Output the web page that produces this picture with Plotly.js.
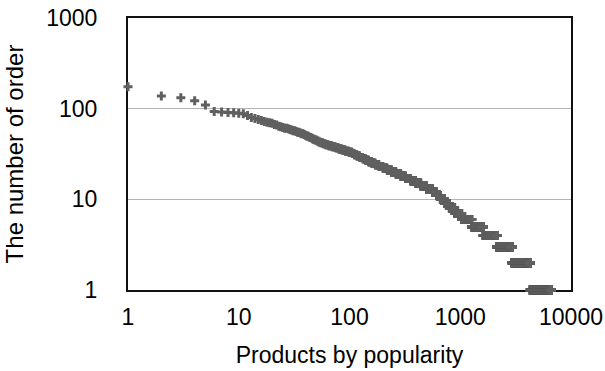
<!DOCTYPE html>
<html>
<head>
<meta charset="utf-8">
<script src="https://cdn.plot.ly/plotly-3.0.1.min.js"></script>
<style>
  html, body { margin: 0; padding: 0; background: #fff; }
  #chart { width: 605px; height: 371px; }
</style>
</head>
<body>
<div id="chart"></div>
<script>
// Rank-frequency data, run-length encoded:
// each entry = number of orders, and the last popularity rank having that count
const orderCounts = [174, 138, 132, 122, 110, 93, 92, 91, 90, 89, 88, 84, 80, 78, 76, 74, 72, 71, 70, 69, 67, 66, 64, 63,
  62, 61, 60, 59, 58, 57, 56, 55, 54, 53, 52, 51, 50, 49, 48, 47, 46, 45, 44, 43, 42, 41, 40, 39, 38, 37, 36, 35, 34,
  33, 32, 31, 30, 29, 28, 27, 26, 25, 24, 23, 22, 21, 20, 19, 18, 17, 16, 15, 14, 13, 12, 11, 10, 9, 8, 7, 6, 5, 4, 3, 2, 1];
const lastRank = [1, 2, 3, 4, 5, 6, 7, 8, 9, 10, 11, 12, 13, 14, 15, 16, 17, 18, 19, 20, 21, 22, 23, 24,
  25, 27, 28, 29, 30, 32, 33, 35, 36, 38, 39, 40, 42, 43, 45, 46, 48, 50, 52, 54, 57, 60, 64, 69, 74, 79, 85, 91, 98,
  105, 110, 116, 123, 131, 139, 148, 158, 170, 184, 200, 218, 238, 262, 290, 320, 355, 395, 440, 495, 560, 610, 660, 721, 796, 890, 1030, 1270, 1610, 2140, 2940, 4290, 6600];

const xTickVals = [1, 10, 100, 1000, 10000];
const xTickText = ['1', '10', '100', '1000', '10000'];
const yTickVals = [1, 10, 100, 1000];
const yTickText = ['1', '10', '100', '1000'];

const rank = [], orders = [];
let start = 1;
for (let i = 0; i < orderCounts.length; i++) {
  for (let r = start; r <= lastRank[i]; r++) { rank.push(r); orders.push(orderCounts[i]); }
  start = lastRank[i] + 1;
}

const family = '"Liberation Sans", Arial, Helvetica, sans-serif';
const tickFont = { family: family, size: 23, color: '#000' };
const xTitleFont = { family: family, size: 23, color: '#000' };
const yTitleFont = { family: family, size: 24, color: '#000' };

const trace = {
  type: 'scatter', mode: 'markers', x: rank, y: orders,
  marker: { symbol: 'cross', size: 7.5, color: '#606060', line: { width: 0 } },
  cliponaxis: false, hoverinfo: 'skip'
};

const layout = {
  width: 605, height: 371,
  margin: { l: 128, r: 34, t: 18, b: 81 },
  paper_bgcolor: '#fff', plot_bgcolor: '#fff',
  font: tickFont, showlegend: false,
  xaxis: {
    type: 'log', range: [0, 4], tickvals: xTickVals, ticktext: xTickText,
    showgrid: false, zeroline: false, showline: true, mirror: true,
    linecolor: '#111', linewidth: 2, ticks: '', ticklabelstandoff: 5,
    layer: 'below traces', tickfont: tickFont,
    title: { text: 'Products by popularity', font: xTitleFont, standoff: 18 }
  },
  yaxis: {
    type: 'log', range: [0, 3], tickvals: yTickVals, ticktext: yTickText,
    showgrid: true, gridcolor: '#b4b4b4', gridwidth: 1,
    zeroline: false, showline: true, mirror: true,
    linecolor: '#111', linewidth: 2, ticks: '', ticklabelstandoff: 24,
    layer: 'below traces', tickfont: tickFont,
    title: { text: 'The number of order', font: yTitleFont, standoff: 16 }
  }
};

Plotly.newPlot('chart', [trace], layout, { staticPlot: true, displayModeBar: false });
</script>
</body>
</html>
